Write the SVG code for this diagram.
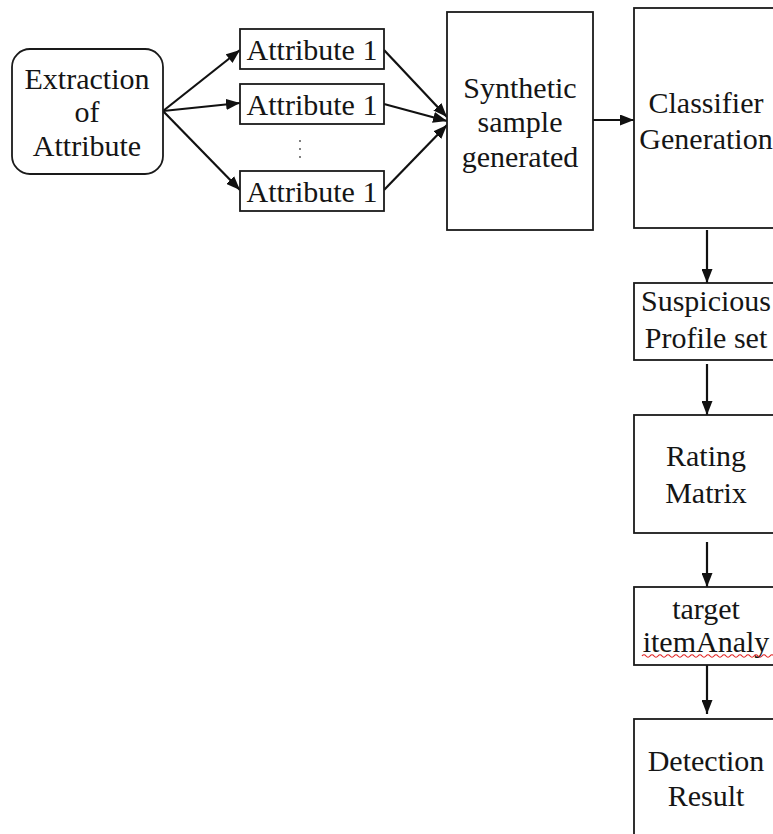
<svg xmlns="http://www.w3.org/2000/svg" width="773" height="834" viewBox="0 0 773 834">
<style>
.box{fill:#fff;stroke:#1a1a1a;stroke-width:1.8}
.t{font-family:"Liberation Serif","Times New Roman",serif;font-size:30px;fill:#151515;text-anchor:middle}
.c{stroke:#111;stroke-width:2.2;fill:none;marker-end:url(#ah)}
</style>
<defs>
<marker id="ah" viewBox="0 0 14 11" refX="14" refY="5.5" markerWidth="14" markerHeight="11" markerUnits="userSpaceOnUse" orient="auto">
<path d="M0,0 L14,5.5 L0,11 Z" fill="#111"/>
</marker>
</defs>
<rect width="773" height="834" fill="#fff"/>
<g id="connectors">
<line class="c" x1="163" y1="111" x2="240" y2="50"/>
<line class="c" x1="163" y1="111" x2="240" y2="103"/>
<line class="c" x1="163" y1="111" x2="240" y2="190"/>
<line class="c" x1="384" y1="50" x2="447" y2="117"/>
<line class="c" x1="384" y1="104" x2="447" y2="121"/>
<line class="c" x1="384" y1="190" x2="447" y2="125"/>
<line class="c" x1="593" y1="120" x2="634" y2="120"/>
<line class="c" x1="707" y1="230" x2="707" y2="283"/>
<line class="c" x1="707" y1="364" x2="707" y2="415"/>
<line class="c" x1="707" y1="542" x2="707" y2="587"/>
<line class="c" x1="707" y1="655" x2="707" y2="714"/>
</g>
<g id="extraction">
<rect class="box" x="12" y="49" width="151" height="125" rx="18"/>
<text class="t" x="87" y="89">Extraction</text>
<text class="t" x="87" y="122">of</text>
<text class="t" x="87" y="156">Attribute</text>
</g>
<g id="attr1">
<rect class="box" x="240" y="29" width="144" height="40"/>
<text class="t" x="312" y="60">Attribute 1</text>
</g>
<g id="attr2">
<rect class="box" x="240" y="84" width="144" height="40"/>
<text class="t" x="312" y="115">Attribute 1</text>
</g>
<g id="dots">
<circle cx="300" cy="141" r="0.9" fill="#444"/>
<circle cx="300" cy="149" r="0.9" fill="#444"/>
<circle cx="300" cy="157" r="0.9" fill="#444"/>
</g>
<g id="attr3">
<rect class="box" x="240" y="171" width="144" height="40"/>
<text class="t" x="312" y="202">Attribute 1</text>
</g>
<g id="synthetic">
<rect class="box" x="447" y="12" width="146" height="218"/>
<text class="t" x="520" y="98">Synthetic</text>
<text class="t" x="520" y="132">sample</text>
<text class="t" x="520" y="167">generated</text>
</g>
<g id="classifier">
<rect class="box" x="634" y="8" width="150" height="220"/>
<text class="t" x="706" y="113">Classifier</text>
<text class="t" x="706" y="149">Generation</text>
</g>
<g id="suspicious">
<rect class="box" x="634" y="283" width="150" height="77"/>
<text class="t" x="706" y="311">Suspicious</text>
<text class="t" x="706" y="348">Profile set</text>
</g>
<g id="rating">
<rect class="box" x="634" y="415" width="150" height="118"/>
<text class="t" x="706" y="466">Rating</text>
<text class="t" x="706" y="503">Matrix</text>
</g>
<g id="target">
<rect class="box" x="634" y="587" width="150" height="78"/>
<text class="t" x="706" y="619">target</text>
<text class="t" x="706" y="652">itemAnaly</text>
<path d="M642,656 q2,-2.5 4,0 t4,0 t4,0 t4,0 t4,0 t4,0 t4,0 t4,0 t4,0 t4,0 t4,0 t4,0 t4,0 t4,0 t4,0 t4,0 t4,0 t4,0 t4,0 t4,0 t4,0 t4,0 t4,0 t4,0 t4,0 t4,0 t4,0 t4,0 t4,0 t4,0 t4,0 t4,0 t4,0" fill="none" stroke="#e02020" stroke-width="1.2"/>
</g>
<g id="detection">
<rect class="box" x="634" y="719" width="150" height="130"/>
<text class="t" x="706" y="771">Detection</text>
<text class="t" x="706" y="806">Result</text>
</g>
</svg>
